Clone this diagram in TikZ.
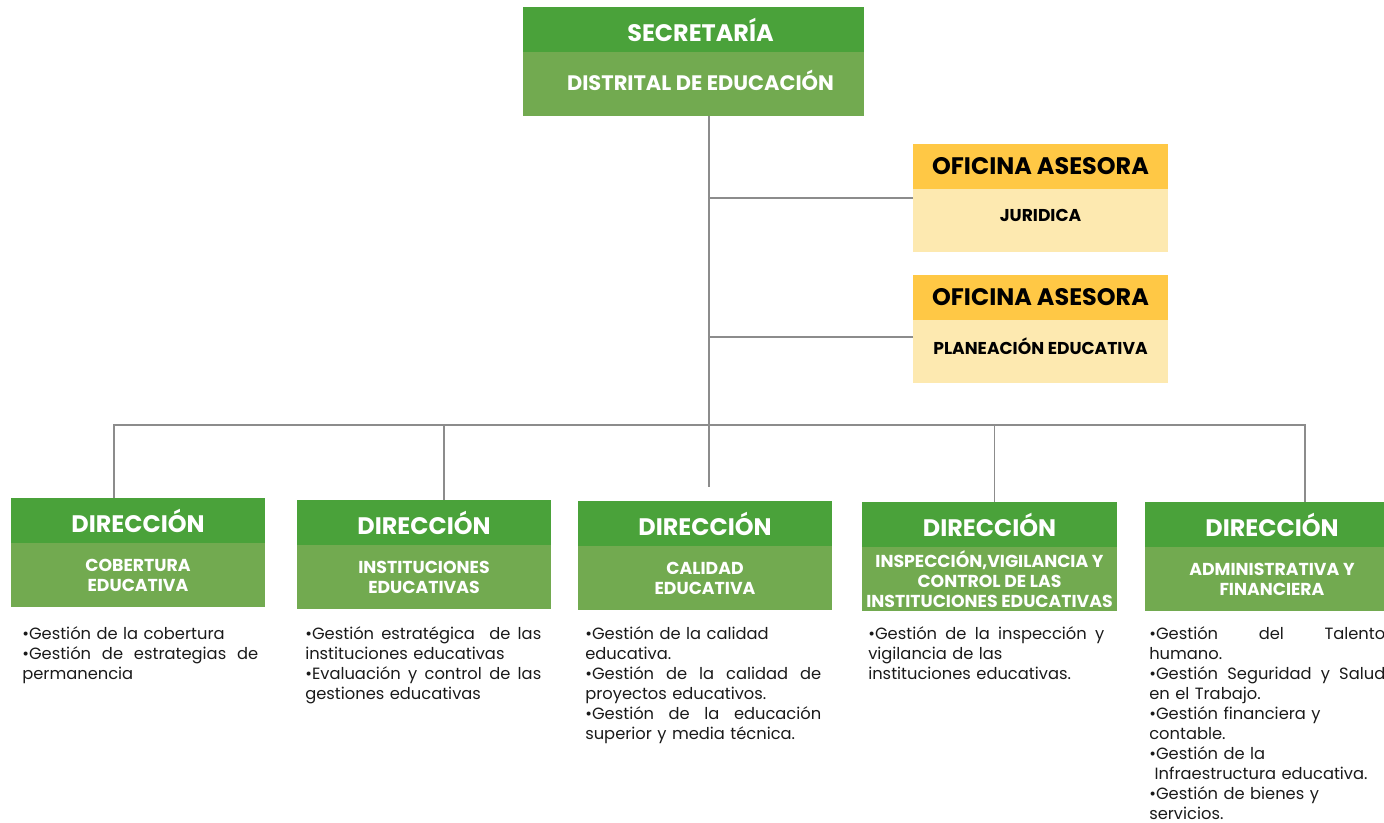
\documentclass[tikz,border=0pt]{standalone}
\usepackage{fontspec}
\setmainfont{Poppins}
\usetikzlibrary{positioning}

\definecolor{verdeA}{HTML}{4AA23A}
\definecolor{verdeB}{HTML}{72AA50}
\definecolor{amarA}{HTML}{FFC845}
\definecolor{amarB}{HTML}{FDE9B0}
\definecolor{gris}{HTML}{8C8C8C}
\definecolor{tinta}{HTML}{1A1A1A}

\newlength\colw
\setlength\colw{59mm}
\newcommand{\llena}[1]{\makebox[\colw][s]{\spaceskip=0.3em plus 1em #1}}

\begin{document}
\begin{tikzpicture}[x=0.25mm,y=-0.25mm,
  cabeza/.style={fill=verdeA, text=white, font=\bfseries\fontsize{17}{19}\selectfont,
    minimum width=63.5mm, minimum height=11.25mm, inner sep=0pt, outer sep=0pt},
  cuerpo/.style={fill=verdeB, text=white, font=\bfseries\fontsize{12.3}{14.2}\selectfont,
    align=center, minimum width=63.5mm, minimum height=16mm, inner sep=0pt, outer sep=0pt},
  ofcab/.style={fill=amarA, text=black, font=\bfseries\fontsize{17}{19}\selectfont,
    minimum width=63.75mm, minimum height=11.25mm, inner sep=0pt, outer sep=0pt},
  ofcuerpo/.style={fill=amarB, text=black, font=\bfseries\fontsize{12.2}{14}\selectfont,
    minimum width=63.75mm, minimum height=15.75mm, inner sep=0pt, outer sep=0pt},
  lista/.style={text=tinta, font=\fontsize{11.6}{14.23}\selectfont, text width=\colw,
    align=left, inner sep=0pt, anchor=base west},
  link/.style={draw=gris, line width=0.4mm}
]
\useasboundingbox (0,0) rectangle (1384,822);

% secretaria
\node[cabeza, minimum width=85.25mm] (sec) at (693.5,29.5) {\hspace*{3.5mm}SECRETARÍA};
\node[cuerpo, minimum width=85.25mm, below=0pt of sec, font=\bfseries\fontsize{14.9}{17}\selectfont] (secb) {\hspace*{3.5mm}\raisebox{2mm}{DISTRITAL DE EDUCACIÓN}};

% oficinas asesoras
\node[ofcab] (of1) at (1040.5,166.5) {OFICINA ASESORA};
\node[ofcuerpo, below=0pt of of1] (of1b) {\raisebox{2.5mm}{JURIDICA}};
\node[ofcab] (of2) at (1040.5,297.5) {OFICINA ASESORA};
\node[ofcuerpo, below=0pt of of2] (of2b) {\raisebox{2.5mm}{PLANEACIÓN EDUCATIVA}};

% direcciones
\node[cabeza] (d1) at (138,520.5) {DIRECCIÓN};
\node[cuerpo, below=0pt of d1] (d1b) {COBERTURA\\EDUCATIVA};
\node[cabeza] (d2) at (424,522.5) {DIRECCIÓN};
\node[cuerpo, below=0pt of d2] (d2b) {INSTITUCIONES\\EDUCATIVAS};
\node[cabeza] (d3) at (705,523.5) {DIRECCIÓN};
\node[cuerpo, below=0pt of d3] (d3b) {CALIDAD\\EDUCATIVA};
\node[cabeza, minimum width=63.75mm] (d4) at (989.5,524.5) {DIRECCIÓN};
\node[cuerpo, minimum width=63.75mm, below=0pt of d4] (d4b) {INSPECCIÓN,VIGILANCIA Y\\CONTROL DE LAS\\INSTITUCIONES EDUCATIVAS};
\node[cabeza, minimum width=63.75mm] (d5) at (1272,524.5) {DIRECCIÓN};
\node[cuerpo, minimum width=63.75mm, below=0pt of d5] (d5b) {ADMINISTRATIVA Y\\FINANCIERA};

% funciones
\node[lista] (t1) at (22,639) {•Gestión de la cobertura\\
\llena{•Gestión de estrategias de}\\
permanencia};
\node[lista] (t2) at (305,639) {\llena{•Gestión estratégica \ de las}\\
instituciones educativas\\
\llena{•Evaluación y control de las}\\
gestiones educativas};
\node[lista] (t3) at (585,639) {•Gestión de la calidad\\
educativa.\\
\llena{•Gestión de la calidad de}\\
proyectos educativos.\\
\llena{•Gestión de la educación}\\
superior y media técnica.};
\node[lista] (t4) at (868,639) {\llena{•Gestión de la inspección y}\\
vigilancia de las\\
instituciones educativas.};
\node[lista] (t5) at (1149,639) {\llena{•Gestión del Talento}\\
humano.\\
\llena{•Gestión Seguridad y Salud}\\
en el Trabajo.\\
•Gestión financiera y\\
contable.\\
•Gestión de la\\
\ Infraestructura educativa.\\
•Gestión de bienes y\\
servicios.};

% lineas
\coordinate (bus) at (709,425);
\coordinate (fin) at (709,487);
\draw[link] (secb.south -| fin) -- (fin);
\draw[link] ([yshift=-2.25mm]of1b.north west) -- ++(-204,0);
\draw[link] ([yshift=-4.25mm]of2b.north west) -- ++(-204,0);
\draw[link] ([xshift=-6mm]d1.north) |- (bus) -| ([xshift=8.25mm]d5.north);
\draw[link] ([xshift=5mm]d2.north) -- ([xshift=5mm]d2.north |- bus);
\draw[link] ([xshift=1.25mm]d4.north) -- ([xshift=1.25mm]d4.north |- bus);
\end{tikzpicture}
\end{document}
